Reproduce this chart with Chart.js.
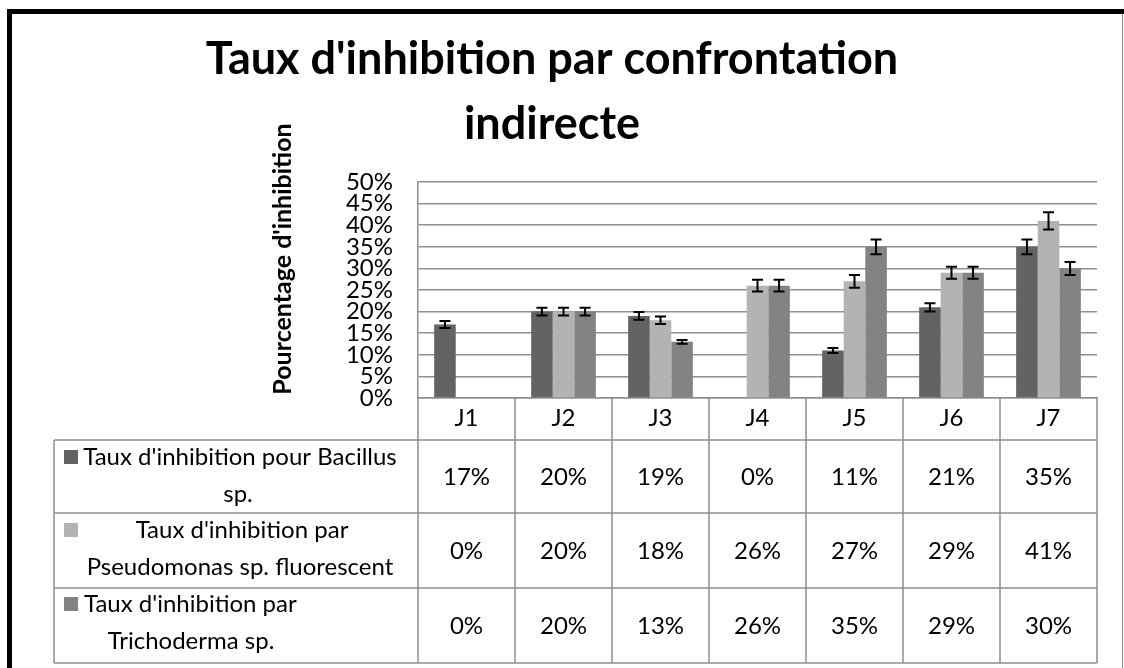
<!DOCTYPE html>
<html>
<head>
<meta charset="utf-8">
<script src="https://cdn.jsdelivr.net/npm/chart.js@4/dist/chart.umd.min.js"></script>
<style>
  body { margin: 0; background: #fff; }
  canvas { display: block; }
</style>
</head>
<body>
<canvas id="inhibition-chart" width="1124" height="668"></canvas>
<script>
const days = ['J1', 'J2', 'J3', 'J4', 'J5', 'J6', 'J7'];
const bacillus = [17, 20, 19, 0, 11, 21, 35];
const pseudomonas = [0, 20, 18, 26, 27, 29, 41];
const trichoderma = [0, 20, 13, 26, 35, 29, 30];
const bacillusErr = [0.8, 0.9, 0.9, 0, 0.6, 0.95, 1.7];
const pseudomonasErr = [0, 0.9, 0.85, 1.35, 1.5, 1.4, 2.0];
const trichodermaErr = [0, 0.9, 0.45, 1.35, 1.7, 1.4, 1.5];
const seriesLabels = [
  ["Taux d'inhibition pour Bacillus", 'sp.'],
  ["Taux d'inhibition par", 'Pseudomonas sp. fluorescent'],
  ["Taux d'inhibition par", 'Trichoderma sp.'],
];
const titleLines = ["Taux d'inhibition par confrontation", 'indirecte'];
const yTitle = "Pourcentage d'inhibition";

const FONT = 'Lato, "Open Sans", sans-serif';
const GRID = '#8f8f8f';

// white page with the thick black frame on top/left
const frame = {
  id: 'frame',
  beforeDraw(chart) {
    const ctx = chart.ctx;
    ctx.save();
    ctx.fillStyle = '#fff';
    ctx.fillRect(0, 0, chart.width, chart.height);
    ctx.fillStyle = '#000';
    ctx.fillRect(7, 9, chart.width - 7, 5);
    ctx.fillRect(7, 9, 5, chart.height - 9);
    ctx.fillStyle = '#8a8a8a';
    ctx.fillRect(chart.width - 2, 14, 1, chart.height - 14);
    ctx.restore();
  }
};

// rotated y-axis title (sits higher than the axis centre)
const yAxisTitle = {
  id: 'yAxisTitle',
  afterDraw(chart) {
    const ctx = chart.ctx;
    ctx.save();
    ctx.translate(283, 259);
    ctx.rotate(-Math.PI / 2);
    ctx.font = 'bold 25px ' + FONT;
    ctx.fillStyle = '#000';
    ctx.textAlign = 'center';
    ctx.textBaseline = 'middle';
    ctx.fillText(yTitle, 0, 0);
    ctx.restore();
  }
};

const errorBars = {
  id: 'errorBars',
  afterDatasetsDraw(chart) {
    const { ctx, scales: { y } } = chart;
    ctx.save();
    ctx.strokeStyle = '#000';
    ctx.lineWidth = 2;
    chart.data.datasets.forEach((ds, di) => {
      chart.getDatasetMeta(di).data.forEach((bar, i) => {
        const e = ds.errors[i];
        if (!e) return;
        const v = ds.data[i];
        const yt = y.getPixelForValue(v + e);
        const yb = y.getPixelForValue(v - e);
        ctx.beginPath();
        ctx.moveTo(bar.x, yt); ctx.lineTo(bar.x, yb);
        ctx.moveTo(bar.x - 5.5, yt); ctx.lineTo(bar.x + 5.5, yt);
        ctx.moveTo(bar.x - 5.5, yb); ctx.lineTo(bar.x + 5.5, yb);
        ctx.stroke();
      });
    });
    ctx.restore();
  }
};

// data table under the x axis: legend keys + values per day
const dataTable = {
  id: 'dataTable',
  afterDraw(chart) {
    const { ctx, chartArea, scales: { x } } = chart;
    const left = 54;
    const rows = [440, 513, 588, 663];
    const lineY = [[457, 494], [530, 567], [604, 641]];
    const lineX = [[240, 238], [242, 240], [198, 191]];
    ctx.save();
    ctx.strokeStyle = GRID;
    ctx.lineWidth = 1.5;
    ctx.beginPath();
    for (let i = 0; i <= days.length; i++) {
      const xp = x.getPixelForValue(i - 0.5);
      ctx.moveTo(xp, chartArea.bottom);
      ctx.lineTo(xp, rows[3]);
    }
    ctx.moveTo(left, rows[0]);
    ctx.lineTo(left, rows[3]);
    rows.forEach(r => { ctx.moveTo(left, r); ctx.lineTo(chartArea.right, r); });
    ctx.stroke();

    ctx.font = '24px ' + FONT;
    ctx.fillStyle = '#000';
    ctx.textBaseline = 'middle';
    chart.data.datasets.forEach((ds, r) => {
      const mid = (rows[r] + rows[r + 1]) / 2;
      ctx.textAlign = 'center';
      ds.data.forEach((v, i) => {
        ctx.fillText(v + '%', x.getPixelForValue(i), mid + 1);
      });
      ctx.fillStyle = ds.backgroundColor;
      ctx.fillRect(64, lineY[r][0] - 7, 14, 14);
      ctx.fillStyle = '#000';
      seriesLabels[r].forEach((t, k) => {
        // the trichoderma key sits flush against its first line
        if (r === 2 && k === 0) {
          ctx.textAlign = 'left';
          ctx.fillText(t, 84, lineY[r][k]);
          ctx.textAlign = 'center';
        } else {
          ctx.fillText(t, lineX[r][k], lineY[r][k]);
        }
      });
    });
    ctx.restore();
  }
};

new Chart(document.getElementById('inhibition-chart'), {
  type: 'bar',
  data: {
    labels: days,
    datasets: [
      { label: seriesLabels[0].join(' '), data: bacillus, errors: bacillusErr, backgroundColor: '#636363' },
      { label: seriesLabels[1].join(' '), data: pseudomonas, errors: pseudomonasErr, backgroundColor: '#b3b3b3' },
      { label: seriesLabels[2].join(' '), data: trichoderma, errors: trichodermaErr, backgroundColor: '#838383' },
    ],
  },
  options: {
    responsive: false,
    animation: false,
    layout: { padding: { left: 7, right: 27, top: 0, bottom: 0 } },
    datasets: { bar: { categoryPercentage: 0.667, barPercentage: 1 } },
    scales: {
      x: {
        afterFit: (s) => { s.height = 270; },
        grid: { display: false, drawTicks: false },
        border: { display: true, color: GRID, width: 1.5 },
        ticks: { color: '#000', font: { family: FONT, size: 24 }, padding: 6 },
      },
      y: {
        min: 0,
        max: 50,
        afterFit: (s) => { s.width = 411; },
        grid: { color: GRID, lineWidth: 1.5, drawTicks: false },
        border: { display: true, color: GRID, width: 1.5 },
        ticks: {
          stepSize: 5,
          autoSkip: false,
          padding: 25,
          color: '#000',
          font: { family: FONT, size: 24, lineHeight: 0.9 },
          callback: (v) => v + '%',
        },
      },
    },
    plugins: {
      legend: { display: false },
      tooltip: { enabled: false },
      title: {
        display: true,
        text: titleLines,
        color: '#000',
        font: { family: FONT, size: 45, weight: 'bold', lineHeight: 1.45 },
        padding: { top: 27, bottom: 24.5 },
      },
    },
  },
  plugins: [frame, yAxisTitle, errorBars, dataTable],
});
</script>
</body>
</html>
